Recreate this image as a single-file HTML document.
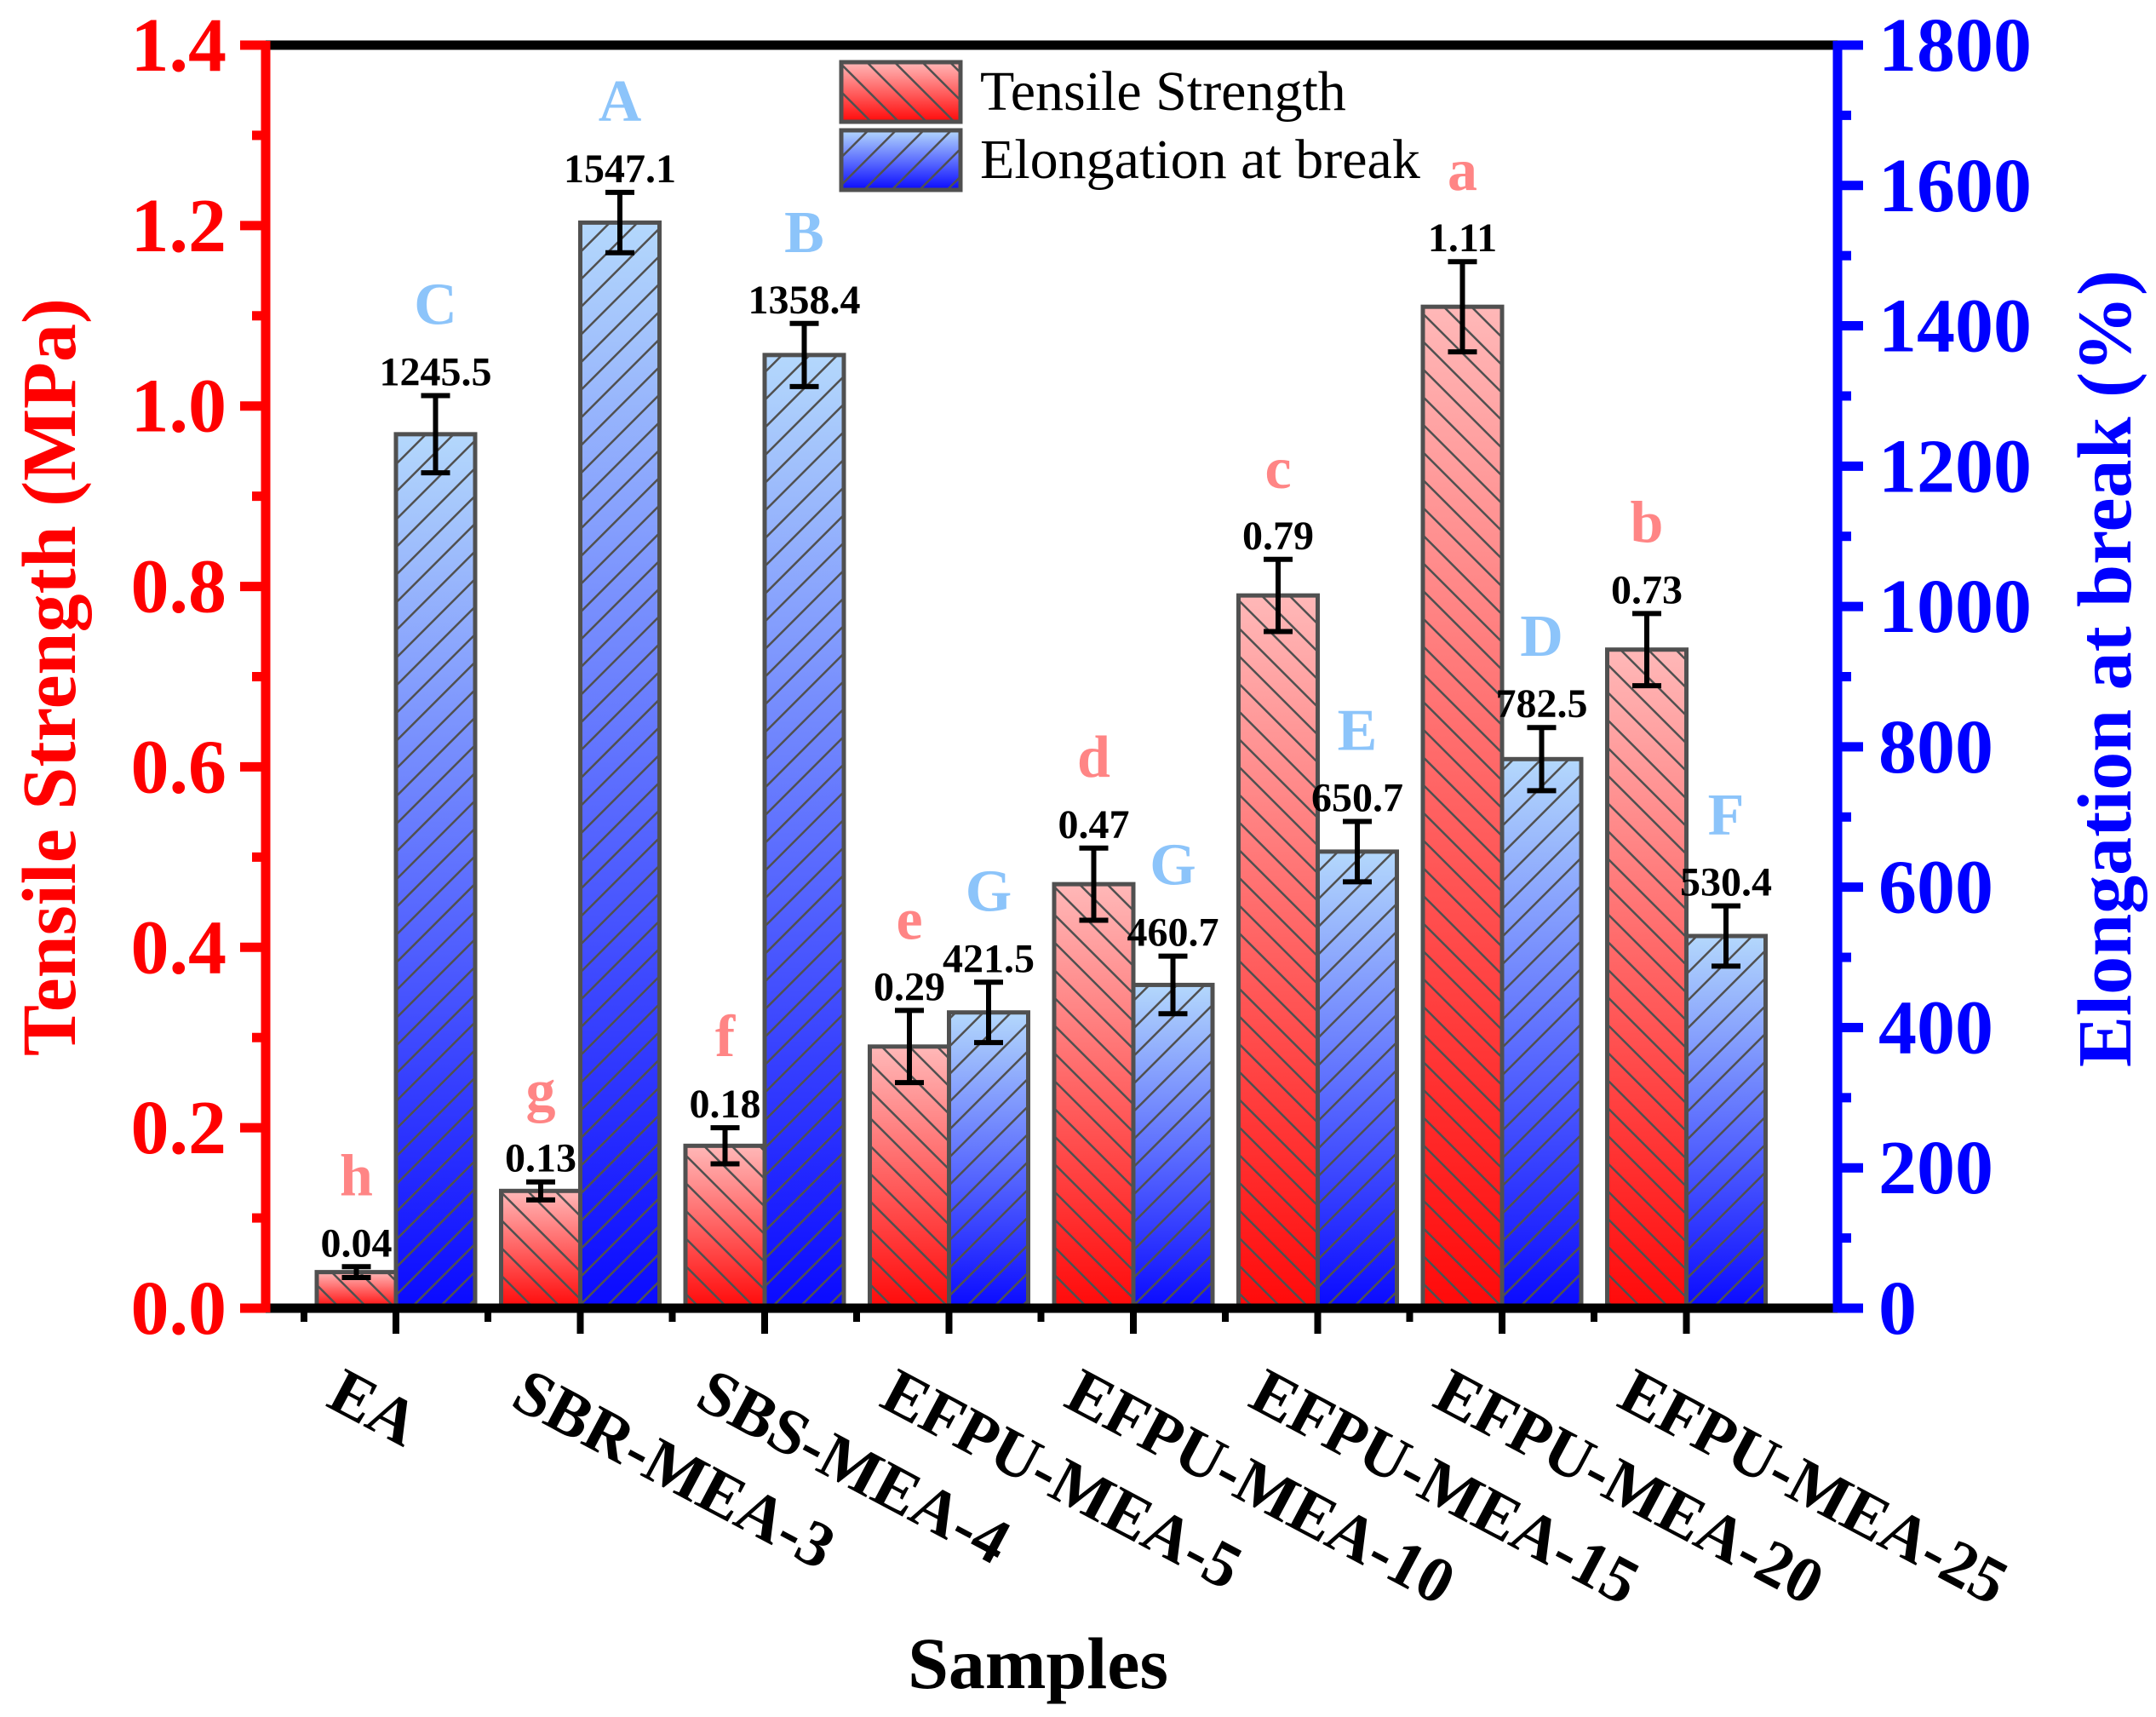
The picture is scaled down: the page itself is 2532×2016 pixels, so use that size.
<!DOCTYPE html>
<html><head><meta charset="utf-8"><style>
html,body{margin:0;padding:0;background:#fff;}
svg{display:block;}
</style></head><body>
<svg id="chart" width="2532" height="2016" viewBox="0 0 2532 2016" xmlns="http://www.w3.org/2000/svg">
<defs>
<linearGradient id="gRed" x1="0" y1="0" x2="0" y2="1"><stop offset="0" stop-color="#ffb8b8"/><stop offset="1" stop-color="#ff0a0a"/></linearGradient>
<linearGradient id="gBlue" x1="0" y1="0" x2="0" y2="1"><stop offset="0" stop-color="#b4d8fc"/><stop offset="1" stop-color="#0a0aff"/></linearGradient>
<pattern id="hRed" patternUnits="userSpaceOnUse" width="23" height="23" patternTransform="rotate(-45)"><line x1="0" y1="0" x2="0" y2="23" stroke="#505050" stroke-width="5"/></pattern>
<pattern id="hBlue" patternUnits="userSpaceOnUse" width="23" height="23" patternTransform="rotate(45)"><line x1="0" y1="0" x2="0" y2="23" stroke="#505050" stroke-width="5"/></pattern>
</defs>
<g id="bars"></g>
<g id="axes"></g>
<g id="legend">
  <rect x="988" y="73" width="140" height="70" fill="url(#gRed)"/>
  <rect x="988" y="73" width="140" height="70" fill="url(#hRed)" stroke="#505050" stroke-width="5"/>
  <text x="1151" y="129" style="font-family:'Liberation Serif',serif;font-size:66px">Tensile Strength</text>
  <rect x="988" y="153" width="140" height="70" fill="url(#gBlue)"/>
  <rect x="988" y="153" width="140" height="70" fill="url(#hBlue)" stroke="#505050" stroke-width="5"/>
  <text x="1151" y="209" style="font-family:'Liberation Serif',serif;font-size:66px">Elongation at break</text>
</g>
<text transform="translate(88,795) rotate(-90)" text-anchor="middle" fill="#ff0000" style="font-family:'Liberation Serif',serif;font-weight:700;font-size:90px">Tensile Strength (MPa)</text>
<text transform="translate(2502,785) rotate(-90)" text-anchor="middle" fill="#0000ff" style="font-family:'Liberation Serif',serif;font-weight:700;font-size:90px">Elongation at break (%)</text>
<text x="1219" y="1982" text-anchor="middle" style="font-family:'Liberation Serif',serif;font-weight:700;font-size:86px">Samples</text>
</svg>
<script>
const categories = ["EA","SBR-MEA-3","SBS-MEA-4","EFPU-MEA-5","EFPU-MEA-10","EFPU-MEA-15","EFPU-MEA-20","EFPU-MEA-25"];
const tensile = [0.04,0.13,0.18,0.29,0.47,0.79,1.11,0.73];
const tensileErr = [0.006,0.01,0.02,0.04,0.04,0.04,0.05,0.04];
const tensileLetters = ["h","g","f","e","d","c","a","b"];
const elongation = [1245.5,1547.1,1358.4,421.5,460.7,650.7,782.5,530.4];
const elongationErr = [55,43,45,43,41,43,45,43];
const elongationLetters = ["C","A","B","G","G","E","D","F"];
const leftTicks = [0,0.2,0.4,0.6,0.8,1.0,1.2,1.4];
const leftTickLabels = ["0.0","0.2","0.4","0.6","0.8","1.0","1.2","1.4"];
const rightTicks = [0,200,400,600,800,1000,1200,1400,1600,1800];

const NS="http://www.w3.org/2000/svg";
const X0=312, X1=2158, YT=53, YB=1536;
const yL=v=>YB-v/1.4*(YB-YT);
const yR=v=>YB-v/1800*(YB-YT);
const xC=i=>465+216.5*i;
const BW=93;
const BOLD=s=>"font-family:'Liberation Serif',serif;font-weight:700;font-size:"+s+"px";
function mk(tag,attrs,parent,txt){const e=document.createElementNS(NS,tag);for(const k in attrs)e.setAttribute(k,attrs[k]);if(txt!==undefined)e.textContent=txt;parent.appendChild(e);return e;}
const bars=document.getElementById('bars'), axes=document.getElementById('axes');

function drawBar(x,yTop,grad,hatch,name,yErrTop,yErrBot,label,letter,letterColor){
  const h=YB-yTop;
  const r=mk('rect',{x:x,y:yTop,width:BW,height:h,fill:grad},bars);
  
  
  mk('rect',{x:x,y:yTop,width:BW,height:h,fill:hatch,stroke:'#505050','stroke-width':5},bars);
  const cx=x+BW/2;
  const g=mk('g',{stroke:'#000','stroke-width':6},bars);
  
  
  mk('line',{x1:cx,y1:yErrTop,x2:cx,y2:yErrBot},g);
  mk('line',{x1:cx-17,y1:yErrTop,x2:cx+17,y2:yErrTop},g);
  mk('line',{x1:cx-17,y1:yErrBot,x2:cx+17,y2:yErrBot},g);
  const t=mk('text',{x:cx,y:yErrTop-12,'text-anchor':'middle',style:BOLD(48)},bars,label);
  
  
  const l=mk('text',{x:cx,y:yErrTop-84,'text-anchor':'middle',fill:letterColor,style:BOLD(70)},bars,letter);
  
  
}
categories.forEach((c,i)=>{
  const cx=xC(i);
  drawBar(cx-BW,yL(tensile[i]),'url(#gRed)','url(#hRed)','bar-tensile-'+c.toLowerCase(),yL(tensile[i]+tensileErr[i]),yL(tensile[i]-tensileErr[i]),tensile[i].toFixed(2),tensileLetters[i],'#ff8585');
  drawBar(cx,yR(elongation[i]),'url(#gBlue)','url(#hBlue)','bar-elongation-'+c.toLowerCase(),yR(elongation[i]+elongationErr[i]),yR(elongation[i]-elongationErr[i]),elongation[i].toFixed(1),elongationLetters[i],'#8cc4fa');
  mk('line',{x1:cx,y1:YB,x2:cx,y2:YB+30,stroke:'#000','stroke-width':8},axes);
  if(i<categories.length-1) mk('line',{x1:cx+108,y1:YB,x2:cx+108,y2:YB+16,stroke:'#000','stroke-width':8},axes);
  if(i===0) mk('line',{x1:cx-108,y1:YB,x2:cx-108,y2:YB+16,stroke:'#000','stroke-width':8},axes);
  const t=mk('text',{transform:`translate(${cx-84},${1650}) rotate(28)`,style:BOLD(76)},axes,c);
  
  
});
mk('line',{x1:X0,y1:YT,x2:X1,y2:YT,stroke:'#000','stroke-width':11},axes);
mk('line',{x1:X0,y1:YB,x2:X1,y2:YB,stroke:'#000','stroke-width':11},axes);
const la=mk('line',{x1:X0,y1:YT-5,x2:X0,y2:YB+5,stroke:'#ff0000','stroke-width':11},axes);


const ra=mk('line',{x1:X1,y1:YT-5,x2:X1,y2:YB+5,stroke:'#0000ff','stroke-width':11},axes);


leftTicks.forEach((v,i)=>{
  const y=yL(v);
  mk('line',{x1:X0-30,y1:y,x2:X0,y2:y,stroke:'#ff0000','stroke-width':11},axes);
  if(i<leftTicks.length-1) mk('line',{x1:X0-16,y1:yL(v+0.1),x2:X0,y2:yL(v+0.1),stroke:'#ff0000','stroke-width':11},axes);
  const t=mk('text',{x:X0-46,y:y+30,'text-anchor':'end',fill:'#ff0000',style:BOLD(90)},axes,leftTickLabels[i]);
  
  
});
rightTicks.forEach((v,i)=>{
  const y=yR(v);
  mk('line',{x1:X1,y1:y,x2:X1+30,y2:y,stroke:'#0000ff','stroke-width':11},axes);
  if(i<rightTicks.length-1) mk('line',{x1:X1,y1:yR(v+100),x2:X1+16,y2:yR(v+100),stroke:'#0000ff','stroke-width':11},axes);
  const t=mk('text',{x:X1+48,y:y+30,fill:'#0000ff',style:BOLD(90)},axes,String(v));
  
  
});
</script>
</body></html>
